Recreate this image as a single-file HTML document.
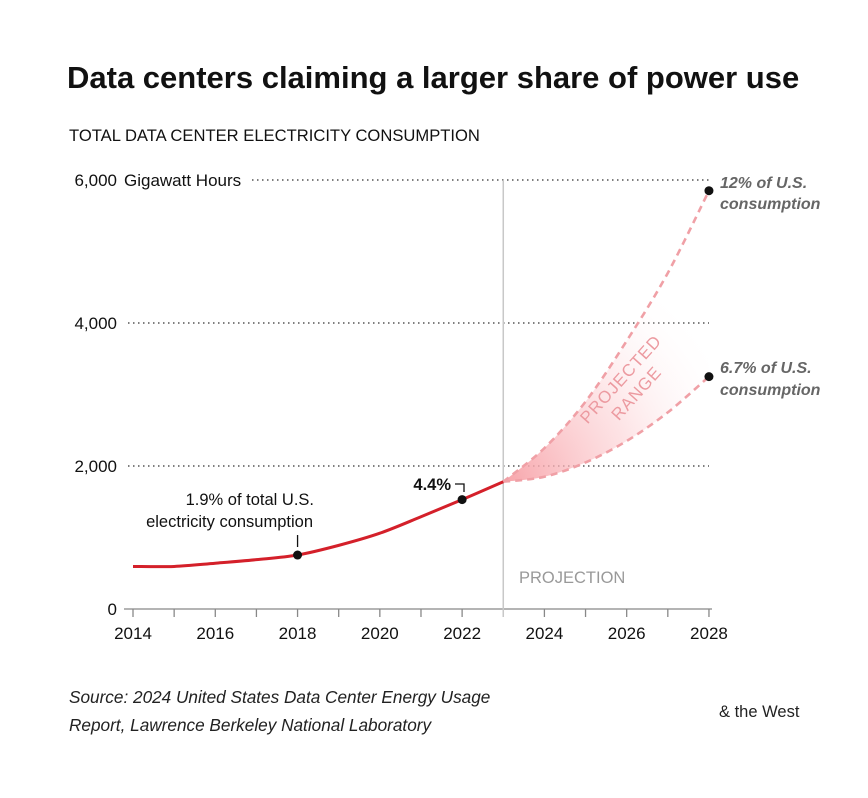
<!DOCTYPE html>
<html><head><meta charset="utf-8">
<style>
body{margin:0;background:#fff;font-family:"Liberation Sans",sans-serif;}
#wrap{position:relative;width:868px;height:798px;overflow:hidden;background:#fff}
.t{position:absolute;white-space:nowrap;color:#111}
</style></head>
<body>
<div id="wrap">
<div class="t" style="left:67px;top:60px;font-size:31px;font-weight:bold;letter-spacing:0px">Data centers claiming a larger share of power use</div>
<div class="t" style="left:69px;top:126px;font-size:16.6px;">TOTAL DATA CENTER ELECTRICITY CONSUMPTION</div>
<svg id="chart" width="868" height="798" style="position:absolute;left:0;top:0">
<defs>
<radialGradient id="g" gradientUnits="userSpaceOnUse" cx="505" cy="482" r="250">
<stop offset="0" stop-color="#f7a0a6" stop-opacity="0.95"/>
<stop offset="0.5" stop-color="#fbc6ca" stop-opacity="0.5"/>
<stop offset="1" stop-color="#fff" stop-opacity="0"/>
</radialGradient>
</defs>
</svg>
<div class="t" style="left:69px;top:683px;font-size:17.2px;font-style:italic;line-height:28px;color:#222">Source: 2024 United States Data Center Energy Usage<br>Report, Lawrence Berkeley National Laboratory</div>
<div class="t" style="left:719px;top:703px;font-size:16.5px;color:#222">&amp; the West</div>
</div>
<script>
const years=[2014,2015,2016,2017,2018,2019,2020,2021,2022,2023];
const actual=[595,595,640,690,755,890,1060,1290,1530,1780];
const projYears=[2023,2024,2025,2026,2027,2028];
const projHigh=[1780,2250,2900,3750,4700,5850];
const projLow=[1780,1850,2050,2350,2750,3250];
const yTicks=[0,2000,4000,6000];
const xTicks=[2014,2016,2018,2020,2022,2024,2026,2028];
const NS="http://www.w3.org/2000/svg";
const svg=document.getElementById('chart');
const X=y=>133+(y-2014)*41.14;
const Y=v=>609-v*143/2000;
function el(t,a,p){const e=document.createElementNS(NS,t);for(const k in a)e.setAttribute(k,a[k]);(p||svg).appendChild(e);return e;}
function txt(s,x,y,a){const e=el('text',Object.assign({x:x,y:y,'font-family':'Liberation Sans, sans-serif','font-size':16,fill:'#111'},a));e.textContent=s;return e;}
function smooth(xs,vs){let pts=xs.map((x,i)=>[X(x),Y(vs[i])]);let d='M'+pts[0][0]+','+pts[0][1];
for(let i=0;i<pts.length-1;i++){const p0=pts[Math.max(0,i-1)],p1=pts[i],p2=pts[i+1],p3=pts[Math.min(pts.length-1,i+2)];
d+=' C'+(p1[0]+(p2[0]-p0[0])/6)+','+(p1[1]+(p2[1]-p0[1])/6)+' '+(p2[0]-(p3[0]-p1[0])/6)+','+(p2[1]-(p3[1]-p1[1])/6)+' '+p2[0]+','+p2[1];}
return d;}
yTicks.forEach(v=>{
 if(v>0){const g=el('line',{x1:v==6000?252:128,x2:709,y1:Y(v),y2:Y(v),stroke:'#333','stroke-dasharray':'1.5 3.5','stroke-width':1.2});
 
 }
 const t=txt(v.toLocaleString('en-US'),117,Y(v)+6,{'text-anchor':'end','font-size':17});
 
 
});
const yu=txt('Gigawatt Hours',124,Y(6000)+6,{'font-size':17});


const ax=el('line',{x1:124,x2:712,y1:609,y2:609,stroke:'#888','stroke-width':1.3});


for(let yr=2014;yr<=2028;yr++){const tk=el('line',{x1:X(yr),x2:X(yr),y1:609,y2:617,stroke:'#888','stroke-width':1.3});

}
xTicks.forEach(yr=>{const t=txt(String(yr),X(yr),639,{'text-anchor':'middle','font-size':17});

});
const pl=el('line',{x1:X(2023),x2:X(2023),y1:180,y2:617,stroke:'#c8c8c8','stroke-width':1.5});


const pt=txt('PROJECTION',519,583,{fill:'#999','font-size':16.5});


const hi=smooth(projYears,projHigh);
const loRev=smooth(projYears.slice().reverse(),projLow.slice().reverse());
const area=el('path',{d:hi+' L'+loRev.slice(1),fill:'url(#g)',stroke:'none'});


const rt=el('text',{transform:'translate(625,383) rotate(-48)','text-anchor':'middle','font-family':'Liberation Sans, sans-serif','font-size':17,fill:'#ec9aa0','letter-spacing':1});


rt.innerHTML='<tspan x="0" dy="0">PROJECTED</tspan><tspan x="0" dy="21">RANGE</tspan>';
[[projHigh,'projection-high-line'],[projLow,'projection-low-line']].forEach(([v,n])=>{
 const p=el('path',{d:smooth(projYears,v),fill:'none',stroke:'#f0a0a6','stroke-width':2.6,'stroke-dasharray':'7 5'});
 
 
});
const line=el('path',{d:smooth(years,actual),fill:'none',stroke:'#d4202a','stroke-width':3});


function dot(x,v,n){const c=el('circle',{cx:X(x),cy:Y(v),r:4.5,fill:'#111'});}
dot(2018,actual[4],'point-2018');
dot(2022,actual[8],'point-2022');
dot(2028,projHigh[5],'point-2028-high');
dot(2028,projLow[5],'point-2028-low');
const a1=el('line',{x1:X(2018),x2:X(2018),y1:Y(actual[4])-8,y2:Y(actual[4])-20,stroke:'#111','stroke-width':1.3});


const t1=txt('1.9% of total U.S.',314,505,{'text-anchor':'end','font-size':16.5});


const t2=txt('electricity consumption',313,527,{'text-anchor':'end','font-size':16.5});


const a2=el('path',{d:'M455,484 H464 V492',fill:'none',stroke:'#111','stroke-width':1.3});


const t3=txt('4.4%',451,490,{'text-anchor':'end','font-size':16.5,'font-weight':'bold'});


[['12% of U.S.',188,'label-high-line1'],['consumption',209,'label-high-line2'],['6.7% of U.S.',373,'label-low-line1'],['consumption',395,'label-low-line2']].forEach(([s,y,n])=>{
 const t=txt(s,720,y,{'font-size':16,'font-style':'italic','font-weight':'bold',fill:'#666'});
 
 
});
</script>
</body></html>
